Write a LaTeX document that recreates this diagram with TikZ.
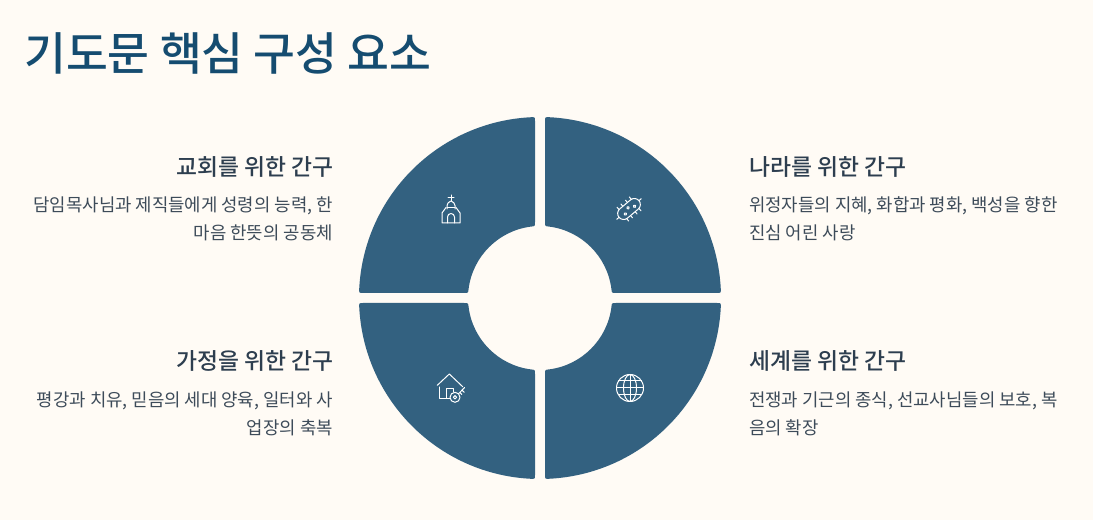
\documentclass[tikz,border=0pt]{standalone}
\usepackage{fontspec}
\setmainfont{Noto Sans CJK KR}
\newfontfamily\headfont{Noto Sans CJK KR Medium}
\usepackage{xcolor}
\definecolor{paper}{HTML}{FFFBF5}
\definecolor{petalblue}{HTML}{336180}
\definecolor{titleblue}{HTML}{154C70}
\definecolor{headgray}{HTML}{2D3E4F}
\definecolor{bodygray}{HTML}{3D4B59}
\usetikzlibrary{positioning}
\begin{document}
\begin{tikzpicture}[
	x=1pt,y=1pt,
	petal/.style={
		fill=petalblue
	},
	titletext/.style={
		font=\headfont\fontsize{45.5}{54}\selectfont,
		text=titleblue,
		inner sep=0pt,
		anchor=west
	},
	heading/.style={
		font=\headfont\fontsize{22.8}{27}\selectfont,
		text=headgray,
		inner sep=0pt
	},
	bodyleft/.style={
		font=\fontsize{17.8}{28}\selectfont,
		text=bodygray,
		inner sep=0pt,
		align=right,
		anchor=north east
	},
	bodyright/.style={
		font=\fontsize{17.8}{28}\selectfont,
		text=bodygray,
		inner sep=0pt,
		align=left,
		anchor=north west
	},
	icon/.style={
		draw=white,
		line width=1pt,
		line join=round,
		line cap=round
	}
	]
	\useasboundingbox[fill=paper] (0,0) rectangle (1093,520);
	\node[titletext] (title) at (24,467) {기도문 핵심 구성 요소};
	% wheel
	\begin{scope}[shift={(540,222)}]
		\foreach \ang in {0,90,180,270}{
			\fill[petal,rotate=\ang] (9,180.8) arc[start angle=87.15,end angle=2.85,radius=181]
			.. controls (180.9,5) .. (177,5) -- (76,5)
			.. controls (71.8,5) .. (71.4,9) arc[start angle=7.18,end angle=82.82,radius=72]
			.. controls (5,71.8) .. (5,76) -- (5,177)
			.. controls (5,180.9) .. (9,180.8) -- cycle;
		}
	\end{scope}
	% left side
	\node[heading,anchor=east] (churchhead) at (334,353) {교회를 위한 간구};
	\node[bodyleft] (churchbody) at (333,323.5) {담임목사님과 제직들에게 성령의 능력, 한\\마음 한뜻의 공동체};
	\node[heading,anchor=east] (homehead) at (334,159) {가정을 위한 간구};
	\node[bodyleft] (homebody) at (333,128.5) {평강과 치유, 믿음의 세대 양육, 일터와 사\\업장의 축복};
	% right side
	\node[heading,anchor=west] (nationhead) at (749,353) {나라를 위한 간구};
	\node[bodyright] (nationbody) at (749,323.5) {위정자들의 지혜, 화합과 평화, 백성을 향한\\진심 어린 사랑};
	\node[heading,anchor=west] (worldhead) at (749,159) {세계를 위한 간구};
	\node[bodyright] (worldbody) at (749,128.5) {전쟁과 기근의 종식, 선교사님들의 보호, 복\\음의 확장};
	% church
	\begin{scope}[shift={(451,311)},icon]
		\draw (-5,1.5) -- (-9,-4) -- (-9,-14) -- (9,-14) -- (9,-4) -- (5,1.5);
		\draw (-4,0) -- (-4,3.5) .. controls (-4,6) and (-2,7) .. (0,8) .. controls (2,7) and (4,6) .. (4,3.5) -- (4,0);
		\draw (-4,1) -- (4,1);
		\draw (0,8) -- (0,14) (-3,11) -- (3,11);
		\draw (-3.5,-14) -- (-3.5,-8) arc[start angle=180,end angle=0,radius=3.5] -- (3.5,-14);
	\end{scope}
	% germ
	\begin{scope}[shift={(629,311)},rotate=40,icon]
		\draw[rounded corners=6pt] (-13,-6) rectangle (13,6);
		\draw (-6,-1.5) circle[radius=1.3] (0,1.5) circle[radius=1.3] (6,-1.5) circle[radius=1.3];
		\foreach \px in {-8,-3,3,8}{
			\draw (\px,6) -- (\px,9);
			\draw (\px,-6) -- (\px,-9);
		}
		\draw (-13,0) -- (-16,0) (13,0) -- (16,0);
	\end{scope}
	% house and key
	\begin{scope}[shift={(451,132)},icon]
		\draw (-13.7,2.7) -- (-1.7,14) -- (11.7,1.3);
		\draw (-11.7,1) -- (-11.7,-10.3) -- (-0.7,-10.3);
		\draw (-5,-10.3) -- (-5,-0.3) -- (2,-0.3) -- (2,-4);
		\draw (4,-9.3) circle[radius=5] (4,-9.3) circle[radius=1.7];
		\draw (7.5,-5.8) -- (13.6,0.5) (11,-2.3) -- (13.2,-4.2) (8.8,-4.5) -- (10.8,-6.5);
	\end{scope}
	% globe
	\begin{scope}[shift={(630,132)},icon]
		\draw (0,0) circle[radius=13.5];
		\draw (0,0) ellipse[x radius=6.5,y radius=13.5];
		\draw (0,-13.5) -- (0,13.5);
		\draw (-13.5,0) -- (13.5,0) (-11.5,7) -- (11.5,7) (-11.5,-7) -- (11.5,-7);
	\end{scope}
\end{tikzpicture}
\end{document}
